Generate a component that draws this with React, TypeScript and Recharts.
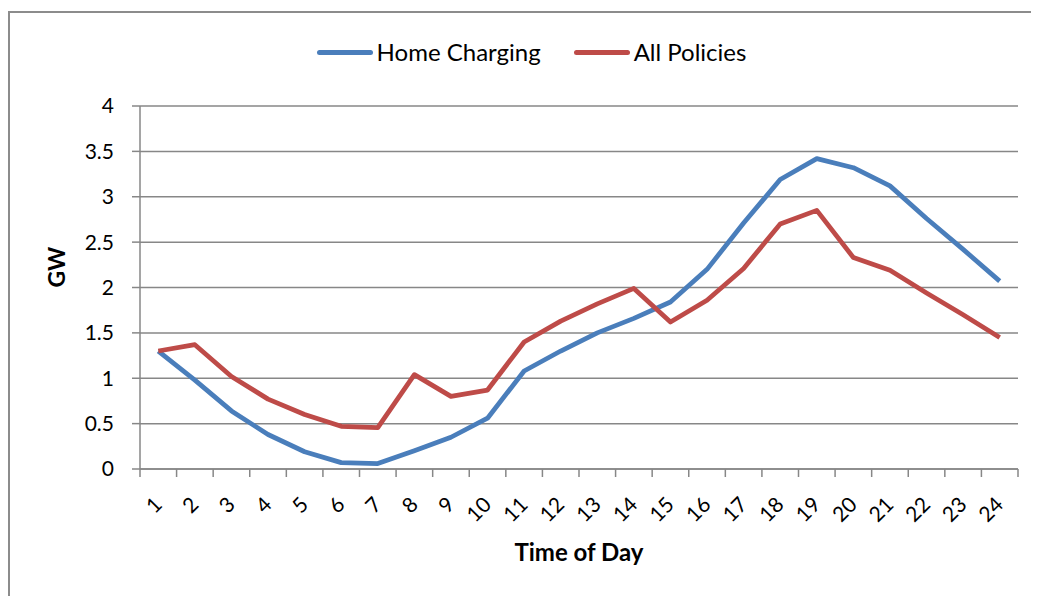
import React from 'react';
import { LineChart, Line, XAxis, YAxis, CartesianGrid, Legend } from 'recharts';

const hours = [1, 2, 3, 4, 5, 6, 7, 8, 9, 10, 11, 12, 13, 14, 15, 16, 17, 18, 19, 20, 21, 22, 23, 24];
const homeCharging = [1.3, 0.98, 0.64, 0.38, 0.19, 0.07, 0.06, 0.2, 0.35, 0.56, 1.08, 1.3, 1.5, 1.66, 1.84, 2.2, 2.71, 3.19, 3.42, 3.32, 3.12, 2.76, 2.42, 2.07];
const allPolicies = [1.3, 1.37, 1.02, 0.77, 0.6, 0.47, 0.455, 1.04, 0.8, 0.87, 1.4, 1.63, 1.82, 1.99, 1.62, 1.86, 2.21, 2.7, 2.85, 2.33, 2.19, 1.94, 1.7, 1.45];
const seriesNames = ['Home Charging', 'All Policies'];
const yTicks = [0, 0.5, 1, 1.5, 2, 2.5, 3, 3.5, 4];
const boundaryTicks = [0.5, ...hours.map((h) => h + 0.5)];

const BLUE = '#4A7EBB';
const RED = '#BE4B48';
const GRID = '#878787';
const FONT = 'Lato, "Open Sans", sans-serif';

const data = hours.map((h, i) => ({ hour: h, home: homeCharging[i], all: allPolicies[i] }));

const HourTick = (props: any) => {
  const { x, y, payload } = props;
  return (
    <g transform={`translate(${x + 5},${y + 28})`}>
      <text textAnchor="end" transform="rotate(-45)" fontSize={21} fill="#000" fontFamily={FONT}>
        {payload.value}
      </text>
    </g>
  );
};

const LegendContent = (props: any) => {
  const items = [...(props.payload || [])].sort(
    (a: any, b: any) => seriesNames.indexOf(a.value) - seriesNames.indexOf(b.value)
  );
  return (
    <div style={{ display: 'flex', justifyContent: 'center', gap: 33, fontFamily: FONT, fontSize: 24, lineHeight: '28px', color: '#000', paddingLeft: 7 }}>
      {items.map((it: any) => (
        <div key={it.value} style={{ display: 'flex', alignItems: 'center' }}>
          <span style={{ display: 'inline-block', width: 56, height: 5, borderRadius: 3, background: it.color, marginRight: 4 }} />
          <span>{it.value}</span>
        </div>
      ))}
    </div>
  );
};

export default function App() {
  return (
    <div style={{ width: 1040, height: 600, border: `2px solid #8c8c8c`, marginTop: 3, boxSizing: 'border-box', background: '#fff' }}>
      <LineChart width={1036} height={596} data={data} margin={{ top: 93, right: 28, bottom: 39, left: 50 }}>
        <CartesianGrid horizontal vertical={false} stroke={GRID} strokeWidth={1.5} />
        <XAxis
          xAxisId="a"
          dataKey="hour"
          type="number"
          domain={[0.5, 24.5]}
          ticks={boundaryTicks}
          tick={() => <g />}
          tickSize={8}
          height={1}
          axisLine={{ stroke: GRID, strokeWidth: 1.5 }}
          tickLine={{ stroke: GRID, strokeWidth: 1.5 }}
        />
        <XAxis
          xAxisId="b"
          dataKey="hour"
          type="number"
          domain={[0.5, 24.5]}
          ticks={hours}
          interval={0}
          tick={<HourTick />}
          axisLine={false}
          tickLine={false}
          height={100}
          label={{ value: 'Time of Day', position: 'insideBottom', offset: 9, fontSize: 24, fontWeight: 700, fill: '#000', fontFamily: FONT }}
        />
        <YAxis
          domain={[0, 4]}
          ticks={yTicks}
          interval={0}
          width={80}
          tickSize={8}
          tickMargin={18}
          axisLine={{ stroke: GRID, strokeWidth: 1.5 }}
          tickLine={{ stroke: GRID, strokeWidth: 1.5 }}
          tick={{ fontSize: 21, fill: '#000', fontFamily: FONT }}
          label={{ value: 'GW', angle: -90, position: 'insideLeft', offset: -3, fontSize: 23, fontWeight: 700, fill: '#000', fontFamily: FONT }}
        />
        <Legend
          verticalAlign="middle"
          align="center"
          content={<LegendContent />}
          wrapperStyle={{ top: 25, left: 0, width: 1036 }}
        />
        <Line xAxisId="b" dataKey="home" name="Home Charging" stroke={BLUE} strokeWidth={4.75} strokeLinejoin="round" dot={false} isAnimationActive={false} />
        <Line xAxisId="b" dataKey="all" name="All Policies" stroke={RED} strokeWidth={4.75} strokeLinejoin="round" dot={false} isAnimationActive={false} />
      </LineChart>
    </div>
  );
}
